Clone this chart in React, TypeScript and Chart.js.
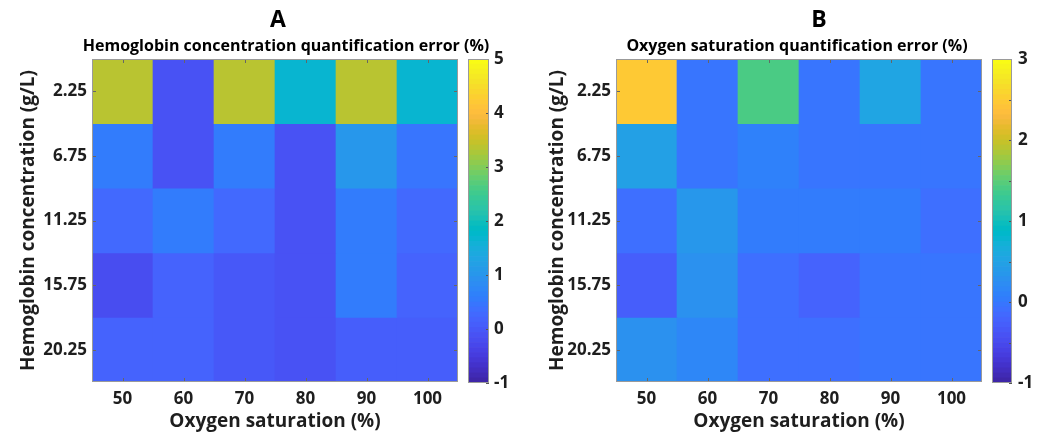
import { useEffect, useRef } from 'react';
import { Chart, registerables } from 'chart.js';

Chart.register(...registerables);

// ---------- data ----------
const oxygenSaturation = ['50', '60', '70', '80', '90', '100'];
const hemoglobinConc = [2.25, 6.75, 11.25, 15.75, 20.25];

// Panel A: hemoglobin concentration quantification error (%), rows = hemoglobin, cols = SO2
const hbErrorRow225 = [3.4, -0.1, 3.4, 1.7, 3.4, 1.7];
const hbErrorRow675 = [0.5, -0.1, 0.5, -0.1, 1.0, 0.45];
const hbErrorRow1125 = [0.25, 0.55, 0.3, -0.1, 0.5, 0.25];
const hbErrorRow1575 = [-0.2, 0.2, 0.0, -0.1, 0.5, 0.2];
const hbErrorRow2025 = [0.2, 0.2, -0.02, -0.1, 0.05, 0.05];

// Panel B: oxygen saturation quantification error (%)
const so2ErrorRow225 = [2.45, -0.06, 1.43, -0.06, 0.54, -0.05];
const so2ErrorRow675 = [0.46, -0.04, 0.11, -0.04, -0.04, -0.04];
const so2ErrorRow1125 = [-0.11, 0.37, 0.0, 0.0, 0.0, -0.12];
const so2ErrorRow1575 = [-0.27, 0.25, -0.12, -0.24, -0.02, -0.02];
const so2ErrorRow2025 = [0.26, 0.14, -0.1, -0.1, -0.06, -0.02];

const hbErrorRange = [-1, 5];
const so2ErrorRange = [-1, 3];
const hbColorbarStep = 1;
const so2ColorbarStep = 0.5;

// MATLAB parula colormap (64 entries)
const PARULA: number[][] = [
  [0.2422, 0.1504, 0.6603], [0.2504, 0.165, 0.7076], [0.2578, 0.1818, 0.7511], [0.2647, 0.1978, 0.7952],
  [0.2706, 0.2147, 0.8364], [0.2751, 0.2342, 0.871], [0.2783, 0.2559, 0.8991], [0.2803, 0.2782, 0.9221],
  [0.2813, 0.3006, 0.9414], [0.281, 0.3228, 0.9579], [0.2795, 0.3447, 0.9717], [0.276, 0.3667, 0.9829],
  [0.2699, 0.3892, 0.9906], [0.2602, 0.4123, 0.9952], [0.244, 0.4358, 0.9988], [0.2206, 0.4603, 0.9973],
  [0.1963, 0.4847, 0.9892], [0.1834, 0.5074, 0.9798], [0.1786, 0.5289, 0.9682], [0.1764, 0.5499, 0.952],
  [0.1687, 0.5703, 0.9359], [0.154, 0.5902, 0.9218], [0.146, 0.6091, 0.9079], [0.138, 0.6276, 0.8973],
  [0.1248, 0.6459, 0.8883], [0.1113, 0.6635, 0.8763], [0.0952, 0.6798, 0.8598], [0.0689, 0.6948, 0.8394],
  [0.0297, 0.7082, 0.8163], [0.0036, 0.7203, 0.7917], [0.0067, 0.7312, 0.766], [0.0433, 0.7411, 0.7394],
  [0.0964, 0.75, 0.712], [0.1408, 0.7584, 0.6842], [0.1717, 0.767, 0.6554], [0.1938, 0.7758, 0.6251],
  [0.2161, 0.7843, 0.5923], [0.247, 0.7918, 0.5567], [0.2906, 0.7973, 0.5188], [0.3406, 0.8008, 0.4789],
  [0.3909, 0.8029, 0.4354], [0.4456, 0.8024, 0.3909], [0.5044, 0.7993, 0.348], [0.5616, 0.7942, 0.3045],
  [0.6174, 0.7876, 0.2612], [0.672, 0.7793, 0.2227], [0.7242, 0.7698, 0.191], [0.7738, 0.7598, 0.1646],
  [0.8203, 0.7498, 0.1535], [0.8634, 0.7406, 0.1596], [0.9035, 0.733, 0.1774], [0.9393, 0.7288, 0.21],
  [0.9728, 0.7298, 0.2394], [0.9956, 0.7434, 0.2371], [0.997, 0.7659, 0.2199], [0.9952, 0.7893, 0.2028],
  [0.9892, 0.8136, 0.1885], [0.9786, 0.8386, 0.1766], [0.9676, 0.8639, 0.1643], [0.961, 0.889, 0.1537],
  [0.9597, 0.9135, 0.1423], [0.9628, 0.9373, 0.1265], [0.9691, 0.9606, 0.1064], [0.9769, 0.9839, 0.0805],
];

const rgb = (c: number[]) => `rgb(${Math.round(c[0] * 255)},${Math.round(c[1] * 255)},${Math.round(c[2] * 255)})`;

function parulaColor(v: number, vmin: number, vmax: number) {
  const n = PARULA.length;
  let idx = Math.floor(((v - vmin) / (vmax - vmin)) * n);
  idx = Math.max(0, Math.min(n - 1, idx));
  return rgb(PARULA[idx]);
}

// ---------- styling ----------
const FONT = '"Open Sans", "DejaVu Sans", sans-serif';
const TEXT = '#1e1e1e';
const TICK_SIZE = 17;
const AXIS_TITLE_SIZE = 19;

const innerTicks = {
  id: 'innerTicks',
  afterDatasetsDraw(chart: any, _args: any, opts: any) {
    if (!opts || !opts.enabled) return;
    const { ctx, chartArea: a } = chart;
    const L = opts.length ?? 4;
    ctx.save();
    ctx.strokeStyle = opts.tickColor ?? '#555';
    ctx.lineWidth = 1;
    ctx.beginPath();
    if (opts.x) {
      const s = chart.scales.x;
      s.ticks.forEach((_t: any, i: number) => {
        const p = Math.round(s.getPixelForTick(i)) + 0.5;
        ctx.moveTo(p, a.top); ctx.lineTo(p, a.top + L);
        ctx.moveTo(p, a.bottom); ctx.lineTo(p, a.bottom - L);
      });
    }
    if (opts.y) {
      const s = chart.scales.y;
      s.ticks.forEach((_t: any, i: number) => {
        const p = Math.round(s.getPixelForTick(i)) + 0.5;
        if (opts.yLeft) { ctx.moveTo(a.left, p); ctx.lineTo(a.left + L, p); }
        ctx.moveTo(a.right, p); ctx.lineTo(a.right - L, p);
      });
    }
    ctx.stroke();
    ctx.strokeStyle = opts.boxColor ?? '#999';
    ctx.strokeRect(Math.round(a.left) + 0.5, Math.round(a.top) + 0.5, Math.round(a.right - a.left) - 1, Math.round(a.bottom - a.top) - 1);
    ctx.restore();
  },
};

const panelTitles = {
  id: 'panelTitles',
  afterDraw(chart: any, _args: any, opts: any) {
    if (!opts || !opts.items) return;
    const { ctx } = chart;
    ctx.save();
    ctx.fillStyle = '#000';
    ctx.textAlign = 'center';
    ctx.textBaseline = 'alphabetic';
    for (const it of opts.items) {
      ctx.font = it.font;
      ctx.fillText(it.text, it.x, it.y);
    }
    ctx.restore();
  },
};

Chart.register(innerTicks, panelTitles);

function heatConfig(rows: number[][], range: number[], layout: any, titles: any[]) {
  const half = (hemoglobinConc[1] - hemoglobinConc[0]) / 2;
  const datasets = hemoglobinConc.map((h, r) => ({
    data: oxygenSaturation.map(() => [h - half, h + half]),
    backgroundColor: rows[r].map((v) => parulaColor(v, range[0], range[1])),
    borderWidth: 0,
    barPercentage: 1,
    categoryPercentage: 1,
    grouped: false,
  }));
  return {
    type: 'bar' as const,
    data: { labels: oxygenSaturation, datasets },
    options: {
      responsive: false,
      animation: false,
      maintainAspectRatio: false,
      layout: { padding: { top: 59, left: layout.padLeft, right: layout.padRight, bottom: 0 } },
      plugins: {
        legend: { display: false },
        tooltip: { enabled: false },
        innerTicks: { enabled: true, x: true, y: true, yLeft: true, length: 4, tickColor: '#666', boxColor: '#9a9a9a' },
        panelTitles: { items: titles },
      },
      scales: {
        x: {
          type: 'category',
          grid: { display: false, drawTicks: false },
          border: { display: false },
          ticks: { padding: 7, color: TEXT, font: { family: FONT, size: TICK_SIZE, weight: 'bold' } },
          title: {
            display: true,
            text: 'Oxygen saturation (%)',
            color: TEXT,
            font: { family: FONT, size: AXIS_TITLE_SIZE, weight: 'bold' },
            padding: { top: 0, bottom: 1 },
          },
          afterFit: (s: any) => { s.height = 52; },
        },
        y: {
          type: 'linear',
          min: hemoglobinConc[0] - half,
          max: hemoglobinConc[hemoglobinConc.length - 1] + half,
          reverse: true,
          afterBuildTicks: (s: any) => { s.ticks = hemoglobinConc.map((v) => ({ value: v })); },
          grid: { display: false, drawTicks: false },
          border: { display: false },
          ticks: {
            padding: layout.yTickPad,
            color: TEXT,
            font: { family: FONT, size: TICK_SIZE, weight: 'bold' },
            callback: (v: any) => Number(v).toFixed(2),
          },
          title: {
            display: true,
            text: 'Hemoglobin concentration (g/L)',
            color: TEXT,
            font: { family: FONT, size: AXIS_TITLE_SIZE, weight: 'bold' },
            padding: { top: 9, bottom: 0 },
          },
          afterFit: (s: any) => { s.width = layout.yAxisWidth; },
        },
      },
    },
  };
}

function colorbarConfig(range: number[], step: number, axisWidth: number, tickPad: number) {
  const n = PARULA.length;
  const h = (range[1] - range[0]) / n;
  const datasets = PARULA.map((c, i) => ({
    data: [[range[0] + i * h, range[0] + (i + 1) * h]],
    backgroundColor: rgb(c),
    borderWidth: 0,
    barPercentage: 1,
    categoryPercentage: 1,
    grouped: false,
  }));
  return {
    type: 'bar' as const,
    data: { labels: [''], datasets },
    options: {
      responsive: false,
      animation: false,
      maintainAspectRatio: false,
      layout: { padding: { top: 59, left: 0, right: 0, bottom: 51 } },
      plugins: {
        legend: { display: false },
        tooltip: { enabled: false },
        innerTicks: { enabled: true, x: false, y: true, yLeft: false, length: 3, tickColor: '#555', boxColor: '#9a9a9a' },
      },
      scales: {
        x: { display: false },
        y: {
          position: 'right',
          min: range[0],
          max: range[1],
          grid: { display: false, drawTicks: false },
          border: { display: false },
          ticks: {
            stepSize: step,
            autoSkip: false,
            padding: tickPad,
            color: TEXT,
            font: { family: FONT, size: TICK_SIZE, weight: 'bold' },
            callback: (v: any) => (Number.isInteger(Number(v)) ? String(v) : ''),
          },
          afterFit: (s: any) => { s.width = axisWidth; },
        },
      },
    },
  };
}

export default function App() {
  const heatA = useRef<HTMLCanvasElement>(null);
  const heatB = useRef<HTMLCanvasElement>(null);
  const barA = useRef<HTMLCanvasElement>(null);
  const barB = useRef<HTMLCanvasElement>(null);

  useEffect(() => {
    const rowsA = [hbErrorRow225, hbErrorRow675, hbErrorRow1125, hbErrorRow1575, hbErrorRow2025];
    const rowsB = [so2ErrorRow225, so2ErrorRow675, so2ErrorRow1125, so2ErrorRow1575, so2ErrorRow2025];
    const charts = [
      new Chart(heatA.current!, heatConfig(rowsA, hbErrorRange,
        { padLeft: 8, padRight: 62, yAxisWidth: 84, yTickPad: 5 },
        [
          { text: 'A', x: 278, y: 27, font: `bold 23px ${FONT}` },
          { text: 'Hemoglobin concentration quantification error (%)', x: 286, y: 51, font: `bold 16px ${FONT}` },
        ]) as any),
      new Chart(heatB.current!, heatConfig(rowsB, so2ErrorRange,
        { padLeft: 17, padRight: 56, yAxisWidth: 79, yTickPad: 5 },
        [
          { text: 'B', x: 299, y: 27, font: `bold 23px ${FONT}` },
          { text: 'Oxygen saturation quantification error (%)', x: 277, y: 51, font: `bold 16px ${FONT}` },
        ]) as any),
      new Chart(barA.current!, colorbarConfig(hbErrorRange, hbColorbarStep, 39, 5) as any),
      new Chart(barB.current!, colorbarConfig(so2ErrorRange, so2ColorbarStep, 26, 6) as any),
    ];
    return () => charts.forEach((c) => c.destroy());
  }, []);

  const abs = (left: number, width: number) => ({ position: 'absolute' as const, left, top: 0, width, height: 434 });

  return (
    <div style={{ position: 'fixed', left: 0, top: 0, width: 1038, height: 434, background: '#fff' }}>
      <canvas ref={heatA} width={520} height={434} style={abs(0, 520)} />
      <canvas ref={heatB} width={518} height={434} style={abs(520, 518)} />
      <canvas ref={barA} width={60} height={434} style={abs(468, 60)} />
      <canvas ref={barB} width={46} height={434} style={abs(992, 46)} />
    </div>
  );
}
